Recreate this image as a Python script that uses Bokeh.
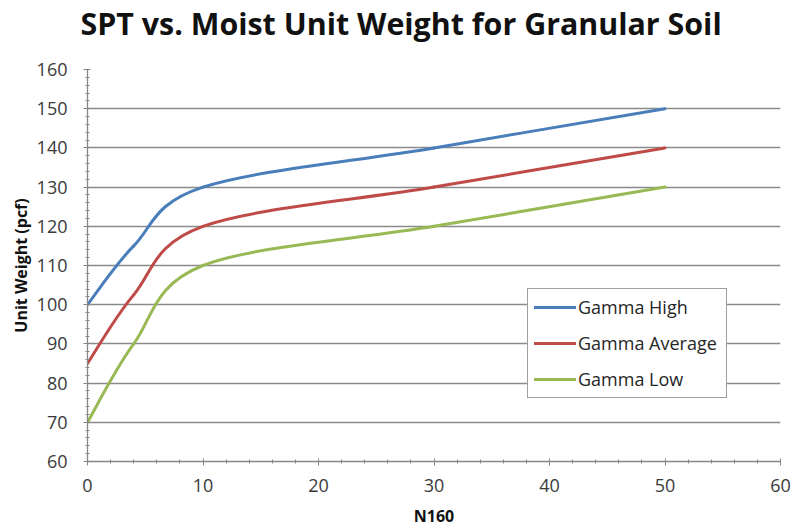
from bokeh.plotting import figure
from bokeh.models import Range1d, FixedTicker, ColumnDataSource, Title
from bokeh.embed import file_html
from bokeh.resources import INLINE

# ---- data ----
n160 = [0, 4, 10, 30, 50]
gamma_high = [100, 115, 130, 140, 150]
gamma_avg = [85, 102.5, 120, 130, 140]
gamma_low = [70, 90, 110, 120, 130]
series_names = ["Gamma High", "Gamma Average", "Gamma Low"]
series_colors = ["#4A7EBB", "#BE4B48", "#98B954"]
x_ticks = [0, 10, 20, 30, 40, 50, 60]
y_ticks = [60, 70, 80, 90, 100, 110, 120, 130, 140, 150, 160]
chart_title = "SPT vs. Moist Unit Weight for Granular Soil"


def smoothed_segments(xs, ys):
    """Excel-style smoothed line: one cubic Bezier per data interval
    (Catmull-Rom control points, tension 1/6)."""
    n = len(xs)
    d = dict(x0=[], y0=[], x1=[], y1=[], cx0=[], cy0=[], cx1=[], cy1=[])
    for i in range(n - 1):
        a = max(i - 1, 0)
        b = min(i + 2, n - 1)
        d["x0"].append(xs[i]); d["y0"].append(ys[i])
        d["x1"].append(xs[i + 1]); d["y1"].append(ys[i + 1])
        d["cx0"].append(xs[i] + (xs[i + 1] - xs[a]) / 6.0)
        d["cy0"].append(ys[i] + (ys[i + 1] - ys[a]) / 6.0)
        d["cx1"].append(xs[i + 1] - (xs[b] - xs[i]) / 6.0)
        d["cy1"].append(ys[i + 1] - (ys[b] - ys[i]) / 6.0)
    return ColumnDataSource(d)


p = figure(width=794, height=529, output_backend="svg", toolbar_location=None,
           x_range=Range1d(0, 60), y_range=Range1d(60, 160),
           min_border_left=87, min_border_right=14,
           min_border_top=69, min_border_bottom=68)

p.outline_line_color = None
p.background_fill_color = "white"
p.border_fill_color = "white"
p.title = None

# blank spacer panel between the title and the plot area
p.add_layout(Title(text=" ", standoff=0, text_font="Open Sans",
                   text_font_size="16px", text_color="white"), "above")

# title, placed above the spacer
p.add_layout(Title(text=chart_title, align="left", offset=-7,
                   vertical_align="top", text_baseline="alphabetic", standoff=0,
                   text_font="Open Sans", text_font_style="bold",
                   text_font_size="30.4px", text_color="#111111"), "above")

# grid
p.xgrid.visible = False
p.ygrid.ticker = FixedTicker(ticks=y_ticks)
p.ygrid.grid_line_color = "#8A8A8A"
p.ygrid.grid_line_width = 1.4

# axes
xax = p.below[0]
yax = p.left[0]
xax.ticker = FixedTicker(ticks=x_ticks, minor_ticks=list(range(0, 61, 2)))
yax.ticker = FixedTicker(ticks=y_ticks, minor_ticks=list(range(60, 161, 2)))
xax.axis_label = "N160"
yax.axis_label = "Unit Weight (pcf)"
for ax in (xax, yax):
    ax.axis_line_color = "#868686"
    ax.axis_line_width = 1.3
    ax.major_tick_line_color = "#868686"
    ax.minor_tick_line_color = "#868686"
    ax.major_tick_in = 3
    ax.major_tick_out = 4
    ax.minor_tick_in = 2
    ax.minor_tick_out = 2
    ax.major_label_text_font = "Open Sans"
    ax.major_label_text_font_size = "18px"
    ax.major_label_text_color = "#3A3A3A"
    ax.axis_label_text_font = "Open Sans"
    ax.axis_label_text_font_style = "bold"
    ax.axis_label_text_font_size = "16px"
    ax.axis_label_text_color = "#111111"
xax.major_label_standoff = 13
yax.major_label_standoff = 16
xax.axis_label_standoff = 10
yax.axis_label_standoff = 2

# smoothed series
for name, ys, col in zip(series_names, [gamma_high, gamma_avg, gamma_low], series_colors):
    src = smoothed_segments(n160, ys)
    p.bezier(x0="x0", y0="y0", x1="x1", y1="y1", cx0="cx0", cy0="cy0",
             cx1="cx1", cy1="cy1", source=src, line_color=col, line_width=3,
             line_cap="round", legend_label=name)

# legend
lg = p.legend[0]
lg.location = (440, 63)
lg.border_line_color = "#404040"
lg.border_line_width = 1.5
lg.background_fill_color = "white"
lg.background_fill_alpha = 1
lg.padding = 6
lg.spacing = 12
lg.margin = 0
lg.glyph_width = 42
lg.glyph_height = 24
lg.label_height = 24
lg.label_width = 142
lg.label_standoff = 2
lg.label_text_font = "Open Sans"
lg.label_text_font_size = "18px"
lg.label_text_color = "#262626"

open("out.html", "w").write(file_html(p, INLINE))
